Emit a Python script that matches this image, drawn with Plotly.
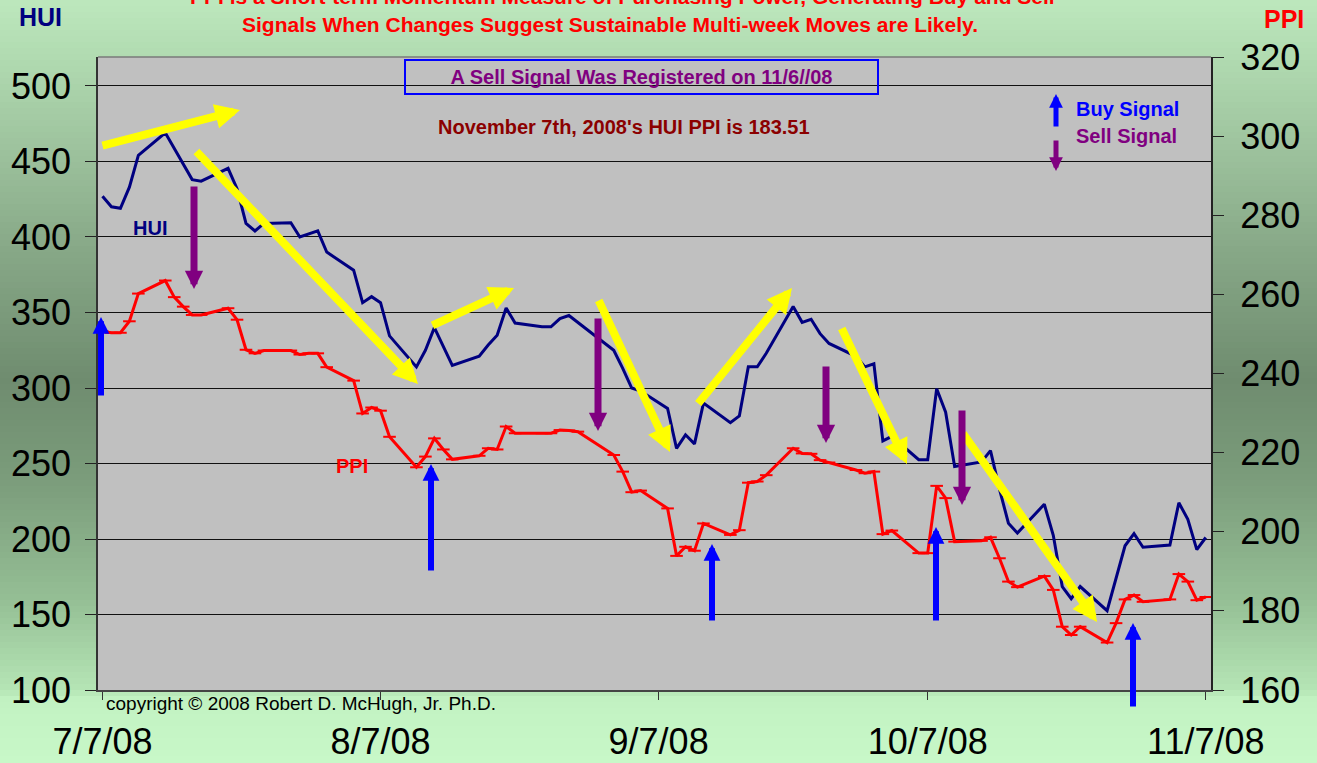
import plotly.graph_objects as go

# ---------------- data ----------------
hui_dates = ["2008-07-07", "2008-07-08", "2008-07-09", "2008-07-10", "2008-07-11", "2008-07-14",
             "2008-07-17", "2008-07-18", "2008-07-21", "2008-07-22", "2008-07-23", "2008-07-24",
             "2008-07-25", "2008-07-28", "2008-07-29", "2008-07-31", "2008-08-01", "2008-08-04",
             "2008-08-05", "2008-08-06", "2008-08-07", "2008-08-08", "2008-08-11", "2008-08-12",
             "2008-08-13", "2008-08-15", "2008-08-18", "2008-08-19", "2008-08-20", "2008-08-21",
             "2008-08-22", "2008-08-25", "2008-08-26", "2008-08-27", "2008-08-28", "2008-09-02",
             "2008-09-03", "2008-09-04", "2008-09-05", "2008-09-08", "2008-09-09", "2008-09-10",
             "2008-09-11", "2008-09-12", "2008-09-15", "2008-09-16", "2008-09-17", "2008-09-18",
             "2008-09-19", "2008-09-22", "2008-09-23", "2008-09-24", "2008-09-25", "2008-09-26",
             "2008-09-29", "2008-09-30", "2008-10-01", "2008-10-02", "2008-10-03", "2008-10-06",
             "2008-10-07", "2008-10-08", "2008-10-09", "2008-10-10", "2008-10-13", "2008-10-14",
             "2008-10-15", "2008-10-16", "2008-10-17", "2008-10-20", "2008-10-21", "2008-10-22",
             "2008-10-23", "2008-10-24", "2008-10-27", "2008-10-29", "2008-10-30", "2008-10-31",
             "2008-11-03", "2008-11-04", "2008-11-05", "2008-11-06", "2008-11-07"]
hui_values = [427, 420, 419, 433, 454, 469,
              438, 437, 445.5, 432, 409, 404,
              409, 409.5, 400, 404, 390, 378,
              356.5, 360.5, 356.5, 334.5, 314, 325,
              340, 315, 321, 328.5, 335, 353,
              343, 340.5, 340.5, 346, 348, 325,
              313, 300, 298, 286.5, 260, 269,
              263, 290, 277, 281.5, 314, 314,
              323, 354, 343.5, 345.5, 336, 329.5,
              321, 314, 316, 265, 268, 252.5,
              252.5, 299.5, 284, 248, 251, 258.5,
              233, 210.5, 204, 223, 202.5, 168.5,
              160.5, 168.5, 152.5, 195.5, 203.5, 194.5,
              196, 224, 213, 193, 201]

ppi_dates = ["2008-07-07", "2008-07-08", "2008-07-09", "2008-07-10", "2008-07-11", "2008-07-14",
             "2008-07-15", "2008-07-16", "2008-07-17", "2008-07-18", "2008-07-21", "2008-07-22",
             "2008-07-23", "2008-07-24", "2008-07-25", "2008-07-28", "2008-07-29", "2008-07-30",
             "2008-07-31", "2008-08-01", "2008-08-04", "2008-08-05", "2008-08-06", "2008-08-07",
             "2008-08-08", "2008-08-11", "2008-08-12", "2008-08-13", "2008-08-14", "2008-08-15",
             "2008-08-18", "2008-08-19", "2008-08-20", "2008-08-21", "2008-08-22", "2008-08-25",
             "2008-08-26", "2008-08-27", "2008-08-28", "2008-08-29", "2008-09-02", "2008-09-03",
             "2008-09-04", "2008-09-05", "2008-09-08", "2008-09-09", "2008-09-10", "2008-09-11",
             "2008-09-12", "2008-09-15", "2008-09-16", "2008-09-17", "2008-09-18", "2008-09-19",
             "2008-09-22", "2008-09-23", "2008-09-24", "2008-09-25", "2008-09-26", "2008-09-29",
             "2008-09-30", "2008-10-01", "2008-10-02", "2008-10-03", "2008-10-06", "2008-10-07",
             "2008-10-08", "2008-10-09", "2008-10-10", "2008-10-13", "2008-10-14", "2008-10-15",
             "2008-10-16", "2008-10-17", "2008-10-20", "2008-10-21", "2008-10-22", "2008-10-23",
             "2008-10-24", "2008-10-27", "2008-10-28", "2008-10-29", "2008-10-30", "2008-10-31",
             "2008-11-03", "2008-11-04", "2008-11-05", "2008-11-06", "2008-11-07"]
ppi_values = [250.6, 250.3, 250.3, 253.2, 260.2, 263.5,
              259.3, 256.9, 254.8, 254.8, 256.5, 253.6,
              246.0, 245.1, 245.8, 245.8, 244.8, 245.1,
              245.1, 241.6, 238.2, 229.9, 231.4, 230.6,
              224.0, 216.3, 219.0, 223.6, 220.8, 218.3,
              219.2, 221.1, 220.8, 226.6, 224.9, 224.9,
              224.9, 225.7, 225.6, 225.3, 219.4, 215.2,
              210.0, 210.4, 205.9, 193.9, 196.2, 195.2,
              202.1, 199.2, 200.4, 212.4, 212.7, 214.3,
              221.1, 219.8, 219.7, 218.1, 217.5, 215.6,
              214.8, 215.2, 199.4, 200.3, 194.6, 194.6,
              211.6, 208.5, 197.5, 197.7, 198.6, 193.3,
              187.4, 186.0, 188.8, 185.3, 176.0, 173.9,
              176.0, 172.0, 176.9, 182.9, 184.0, 182.3,
              182.9, 189.3, 187.4, 182.7, 183.51]

x_tick_dates = ["2008-07-07", "2008-08-07", "2008-09-07", "2008-10-07", "2008-11-07"]
x_tick_labels = ["7/7/08", "8/7/08", "9/7/08", "10/7/08", "11/7/08"]
hui_ticks = [100, 150, 200, 250, 300, 350, 400, 450, 500]
ppi_ticks = [160, 180, 200, 220, 240, 260, 280, 300, 320]

# ---------------- geometry helpers ----------------
W, H = 1317, 763
L, R, T, B = 98, 1211, 57, 690
FONT = "Liberation Sans, Arial, sans-serif"


def px(x, y):
    return (x - L) / (R - L), (B - y) / (B - T)


fig = go.Figure()
fig.add_trace(go.Scatter(x=hui_dates, y=hui_values, mode="lines", name="HUI",
                         line=dict(color="#000080", width=3), yaxis="y"))
fig.add_trace(go.Scatter(x=ppi_dates, y=ppi_values, mode="lines+markers", name="PPI",
                         line=dict(color="#FF0000", width=3),
                         marker=dict(symbol="line-ew", size=9,
                                     line=dict(color="#FF0000", width=2)),
                         yaxis="y2"))

# ---------------- background gradient ----------------
stops = [(0, (189, 232, 189)), (60, (176, 218, 176)), (150, (157, 194, 157)),
         (250, (135, 168, 135)), (380, (111, 140, 111)), (480, (123, 156, 123)),
         (600, (149, 191, 149)), (690, (181, 229, 181)), (700, (194, 242, 194)),
         (763, (200, 248, 200))]


def col_at(y):
    for (y0, c0), (y1, c1) in zip(stops[:-1], stops[1:]):
        if y0 <= y <= y1:
            t = (y - y0) / (y1 - y0) if y1 > y0 else 0
            c = [round(a + (b - a) * t) for a, b in zip(c0, c1)]
            return "rgb(%d,%d,%d)" % tuple(c)
    return "rgb(200,248,200)"


shapes = []
step = 6
for yy in range(0, H, step):
    x0, y0 = px(0, yy + step + 0.5)
    x1, y1 = px(W, yy)
    shapes.append(dict(type="rect", xref="paper", yref="paper", x0=x0, x1=x1, y0=y0, y1=y1,
                       fillcolor=col_at(yy + step / 2), line=dict(width=0), layer="below"))
shapes.append(dict(type="rect", xref="paper", yref="paper", x0=0, x1=1, y0=0, y1=1,
                   fillcolor="#C0C0C0", line=dict(width=0), layer="below"))
shapes.append(dict(type="line", xref="paper", yref="paper", x0=0, x1=1, y0=1, y1=1,
                   line=dict(color="#7A7A7A", width=1.5), layer="above"))

# ---------------- annotations ----------------
ann = []


def text(t, x, y, color, size, bold=True, xanchor="center", **kw):
    xp, yp = px(x, y)
    ann.append(dict(text=t, x=xp, y=yp, xref="paper", yref="paper", showarrow=False,
                    xanchor=xanchor, yanchor="middle",
                    font=dict(family=FONT, size=size, color=color,
                              weight="bold" if bold else "normal"), **kw))


def arrow(tx, ty, hx, hy, color, width, size):
    xp, yp = px(hx, hy)
    ann.append(dict(text="", x=xp, y=yp, xref="paper", yref="paper",
                    ax=tx - hx, ay=ty - hy, axref="pixel", ayref="pixel",
                    showarrow=True, arrowhead=2, arrowwidth=width, arrowsize=size,
                    arrowcolor=color, standoff=0))


text("PPI is a Short-term Momentum Measure of Purchasing Power, Generating Buy and Sell",
     622, -4, "#FF0000", 21)
text("Signals When Changes Suggest Sustainable Multi-week Moves are Likely.",
     610, 24, "#FF0000", 21)
text("HUI", 40, 17, "#000080", 25)
text("PPI", 1284, 19, "#FF0000", 25)
text("A Sell Signal Was Registered on 11/6//08", 641, 77, "#800080", 20,
     bordercolor="#0000FF", borderwidth=2, borderpad=0, width=471, height=32)
text("November 7th, 2008's HUI PPI is 183.51", 624, 127, "#8B0000", 20)
text("Buy Signal", 1074, 109, "#0000FF", 20, xanchor="left")
text("Sell Signal", 1074, 136, "#800080", 20, xanchor="left")
text("HUI", 150, 228, "#000080", 20)
text("PPI", 352, 466, "#FF0000", 20)
text("copyright \u00a9 2008 Robert D. McHugh, Jr. Ph.D.", 104, 703, "#000000", 19,
     bold=False, xanchor="left")

YEL, PUR, BLU = "#FFFF00", "#800080", "#0000FF"
for a in [(101, 146, 240, 110), (195, 150, 418, 384), (431, 326, 514, 288),
          (598, 299, 670, 452), (697, 405, 792, 288), (841, 327, 907, 464),
          (962, 432, 1097, 622)]:
    arrow(*a, YEL, 8, 0.62)
for a in [(194, 185, 194, 289), (598, 317, 598, 431), (826, 365, 826, 443),
          (962, 409, 962, 505)]:
    arrow(*a, PUR, 7, 0.52)
for a in [(101, 397, 101, 317), (431, 572, 431, 464), (712, 622, 712, 544),
          (936, 622, 936, 527), (1133, 708, 1133, 623)]:
    arrow(*a, BLU, 6, 0.56)
arrow(1056, 128, 1056, 94, BLU, 5, 0.55)
arrow(1056, 139, 1056, 171, PUR, 5, 0.55)

tickfont = dict(family=FONT, size=36, color="#000000")
fig.update_layout(
    width=W, height=H, autosize=False,
    margin=dict(l=L, r=W - R, t=T, b=H - B, pad=0, autoexpand=False),
    paper_bgcolor="rgb(196,244,196)", plot_bgcolor="rgba(0,0,0,0)",
    showlegend=False, hovermode=False,
    shapes=shapes, annotations=ann,
    xaxis=dict(type="date", range=["2008-07-06 12:00", "2008-11-07 14:00"],
               tickvals=x_tick_dates, ticktext=x_tick_labels, tickfont=tickfont,
               ticks="outside", ticklen=8, tickcolor="#333", showgrid=False,
               showline=True, linecolor="#444", linewidth=2, zeroline=False,
               ticklabelstandoff=11, automargin=False),
    yaxis=dict(range=[100, 519.2], tickvals=hui_ticks, tickfont=tickfont,
               ticks="outside", ticklen=11, tickcolor="#222",
               showgrid=True, gridcolor="#111111", gridwidth=1,
               showline=True, linecolor="#333", linewidth=1.5, zeroline=False,
               ticklabelstandoff=7, automargin=False),
    yaxis2=dict(range=[160, 320], tickvals=ppi_ticks, tickfont=tickfont,
                overlaying="y", side="right", ticks="outside", ticklen=11,
                tickcolor="#222", showgrid=False, showline=True, linecolor="#222",
                linewidth=2, zeroline=False, ticklabelstandoff=9, automargin=False),
)

fig.write_html("out.html", config={"displayModeBar": False},
               post_script="document.body.style.margin='0';"
                           "document.body.style.overflow='hidden';")
